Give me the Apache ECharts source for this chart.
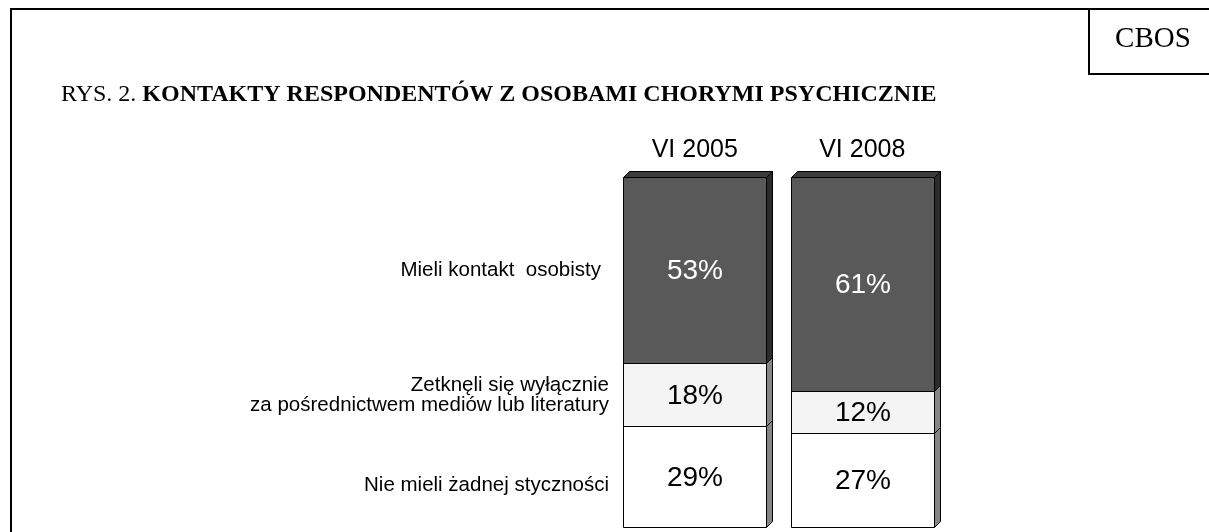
<!DOCTYPE html>
<html>
<head>
<meta charset="utf-8">
<script src="https://cdn.jsdelivr.net/npm/echarts@6/dist/echarts.min.js"></script>
<style>
  html, body { margin: 0; padding: 0; background: #fff; }
  #chart { width: 1209px; height: 532px; }
</style>
</head>
<body>
<div id="chart"></div>
<script>
// data
const categories = ['VI 2005', 'VI 2008']
const contactPersonal = [53, 61]   // Mieli kontakt osobisty
const mediaOnly = [18, 12]         // Zetknęli się wyłącznie za pośrednictwem mediów lub literatury
const noContact = [29, 27]         // Nie mieli żadnej styczności
const seriesNames = [
  'Mieli kontakt  osobisty',
  'Zetknęli się wyłącznie\nza pośrednictwem mediów lub literatury',
  'Nie mieli żadnej styczności'
]

const SANS = '"Liberation Sans", Arial, sans-serif'
const SERIF = '"Liberation Serif", "Times New Roman", serif'
const BAR_W = 143
const DEPTH = 6

// bottom -> top stacking order
const stackOrder = [
  { name: seriesNames[2], values: noContact, front: '#ffffff', side: '#858585', text: '#000' },
  { name: seriesNames[1], values: mediaOnly, front: '#f4f4f4', side: '#858585', text: '#000' },
  { name: seriesNames[0], values: contactPersonal, front: '#595959', side: '#2b2b2b', text: '#fff', top: true }
]

const chart = echarts.init(document.getElementById('chart'))

const makeSeries = (cfg, level) => {
  const data = categories.map((c, i) => {
    let base = 0
    for (let k = 0; k < level; k++) base += stackOrder[k].values[i]
    return [i, base, base + cfg.values[i]]
  })
  return {
    name: cfg.name,
    type: 'custom',
    data: data,
    renderItem: (params, api) => {
      const p0 = api.coord([api.value(0), api.value(1)])
      const p1 = api.coord([api.value(0), api.value(2)])
      const xl = Math.round(p0[0] - BAR_W / 2) + 0.5
      const xr = xl + BAR_W
      const yb = Math.round(p0[1]) + 0.5
      const yt = Math.round(p1[1]) + 0.5
      const children = [
        {
          type: 'polygon',
          shape: { points: [[xr, yt], [xr + DEPTH, yt - DEPTH], [xr + DEPTH, yb - DEPTH], [xr, yb]] },
          style: { fill: cfg.side, stroke: '#000', lineWidth: 1 }
        },
        {
          type: 'rect',
          shape: { x: xl, y: yt, width: BAR_W, height: yb - yt },
          style: { fill: cfg.front, stroke: '#000', lineWidth: 1 }
        },
        {
          type: 'text',
          style: {
            x: (xl + xr) / 2, y: (yt + yb) / 2 + 1,
            text: (api.value(2) - api.value(1)) + '%',
            fill: cfg.text, font: '28px ' + SANS,
            align: 'center', verticalAlign: 'middle'
          }
        }
      ]
      if (cfg.top) {
        children.unshift({
          type: 'polygon',
          shape: { points: [[xl, yt], [xl + DEPTH, yt - DEPTH], [xr + DEPTH, yt - DEPTH], [xr, yt]] },
          style: { fill: '#3c3c3c', stroke: '#000', lineWidth: 1 }
        })
      }
      return { type: 'group', children: children }
    }
  }
}

const option = {
  backgroundColor: '#fff',
  animation: false,
  grid: { left: 611, width: 335, top: 177, bottom: 5 },
  xAxis: {
    type: 'category',
    position: 'top',
    data: categories,
    axisLine: { show: false },
    axisTick: { show: false },
    axisLabel: { fontSize: 25, color: '#000', fontFamily: SANS, margin: 14 }
  },
  yAxis: { type: 'value', min: 0, max: 100, show: false },
  series: stackOrder.map(makeSeries),
  graphic: [
    // frame
    { type: 'line', shape: { x1: 11, y1: 9, x2: 11, y2: 532 }, style: { stroke: '#000', lineWidth: 2 } },
    { type: 'line', shape: { x1: 10, y1: 9, x2: 1209, y2: 9 }, style: { stroke: '#000', lineWidth: 2 } },
    { type: 'line', shape: { x1: 1089, y1: 9, x2: 1089, y2: 74 }, style: { stroke: '#000', lineWidth: 2 } },
    { type: 'line', shape: { x1: 1088, y1: 74, x2: 1209, y2: 74 }, style: { stroke: '#000', lineWidth: 2 } },
    { type: 'text', style: { x: 1153, y: 39, text: 'CBOS', font: '29px ' + SERIF, fill: '#000', align: 'center', verticalAlign: 'middle' } },
    {
      type: 'text',
      style: {
        x: 61, y: 95, verticalAlign: 'middle',
        text: '{n|RYS. 2. }{b|KONTAKTY RESPONDENTÓW Z OSOBAMI CHORYMI PSYCHICZNIE}',
        rich: {
          n: { fontFamily: SERIF, fontSize: 24, fill: '#000', color: '#000' },
          b: { fontFamily: SERIF, fontSize: 24, fontWeight: 'bold', fill: '#000', color: '#000' }
        }
      }
    },
    // row labels
    { type: 'text', style: { x: 601, y: 270, text: seriesNames[0], font: '20.5px ' + SANS, fill: '#000', align: 'right', verticalAlign: 'middle' } },
    { type: 'text', style: { x: 609, y: 395, text: seriesNames[1], font: '20.5px ' + SANS, lineHeight: 20, fill: '#000', align: 'right', verticalAlign: 'middle' } },
    { type: 'text', style: { x: 609, y: 485, text: seriesNames[2], font: '20.5px ' + SANS, fill: '#000', align: 'right', verticalAlign: 'middle' } }
  ]
}

chart.setOption(option)
</script>
</body>
</html>
